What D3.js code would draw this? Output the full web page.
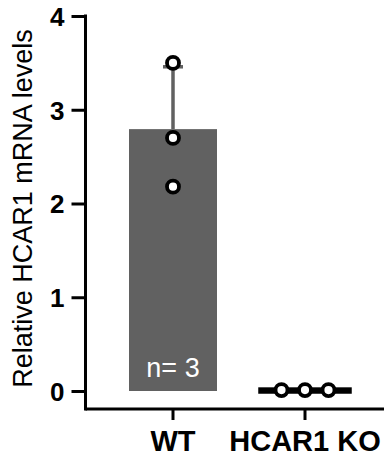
<!DOCTYPE html>
<html>
<head>
<meta charset="utf-8">
<script src="https://cdn.jsdelivr.net/npm/d3@7"></script>
<style>
  html, body { margin: 0; padding: 0; background: #fff; }
  svg { display: block; }
  text { font-family: "Liberation Sans", Arial, sans-serif; }
</style>
</head>
<body>
<svg id="chart" width="386" height="459"></svg>
<script>
// ---- data ----
const groups = ["WT", "HCAR1 KO"];
const wtValues = [3.50, 2.70, 2.18];
const koValues = [0.01, 0.01, 0.01];
const barColors = ["#616161", "#000000"];
const yTicks = [0, 1, 2, 3, 4];
const yTitle = "Relative HCAR1 mRNA levels";
const nLabel = "n= 3";

const seriesValues = [wtValues, koValues];

const svg = d3.select("#chart");

const y = d3.scaleLinear().domain([0, 4]).range([391, 16]);
const x = d3.scaleBand().domain(groups).range([107, 371]).paddingInner(1/3).paddingOuter(1/6);

const axisX0 = 85.5;   // y-axis position
const axisY0 = 409;    // x-axis position

const stats = groups.map((g, i) => ({
  g, vals: seriesValues[i], mean: d3.mean(seriesValues[i]), sd: d3.deviation(seriesValues[i]) || 0, color: barColors[i]
}));

// bars
svg.append("g").selectAll("rect").data(stats).join("rect")
  .attr("x", d => x(d.g))
  .attr("width", x.bandwidth())
  .attr("y", d => y(d.mean))
  .attr("height", d => Math.max(0, y(0) - y(d.mean)))
  .attr("fill", d => d.color)
  .attr("stroke", d => d.g === "HCAR1 KO" ? d.color : "none")
  .attr("stroke-width", 5.5);

// error bars (upper SD)
const eb = svg.append("g");
stats.forEach(d => {
  if (d.sd <= 0.02) return;
  const cx = x(d.g) + x.bandwidth() / 2;
  eb.append("line")
    .attr("x1", cx).attr("x2", cx)
    .attr("y1", y(d.mean)).attr("y2", y(d.mean + d.sd))
    .attr("stroke", d.color).attr("stroke-width", 3.5);
  eb.append("line")
    .attr("x1", cx - 10).attr("x2", cx + 10)
    .attr("y1", y(d.mean + d.sd)).attr("y2", y(d.mean + d.sd))
    .attr("stroke", d.color).attr("stroke-width", 3.5);
});

// n label
svg.append("text")
  .attr("x", x("WT") + x.bandwidth() / 2)
  .attr("y", 377)
  .attr("text-anchor", "middle")
  .attr("fill", "#ffffff")
  .attr("font-size", 27)
  .text(nLabel);

// points: spread horizontally when they overlap in pixel space
const pts = [];
stats.forEach(d => {
  const cx = x(d.g) + x.bandwidth() / 2;
  const ys = d.vals.map(v => y(v));
  const minGap = d3.min(d3.pairs(ys.slice().sort(d3.ascending)), p => p[1] - p[0]);
  const overlap = minGap < 14;
  d.vals.forEach((v, j) => {
    const off = overlap ? (j - (d.vals.length - 1) / 2) * 23.5 : 0;
    pts.push({ cx: cx + off, cy: y(v) });
  });
});
svg.append("g").selectAll("circle").data(pts).join("circle")
  .attr("cx", d => d.cx).attr("cy", d => d.cy)
  .attr("r", 6)
  .attr("fill", "#fff")
  .attr("stroke", "#000")
  .attr("stroke-width", 3.8);

// y axis
const yAxis = d3.axisLeft(y).tickValues(yTicks).tickSize(14).tickPadding(7).tickFormat(d3.format("d"));
const gy = svg.append("g").attr("transform", `translate(${axisX0},0)`).call(yAxis);
gy.select(".domain").remove();
gy.selectAll(".tick line").attr("stroke", "#000").attr("stroke-width", 3);
gy.selectAll(".tick text")
  .attr("font-family", "Liberation Sans, Arial, sans-serif")
  .attr("font-size", 26).attr("font-weight", "bold").attr("fill", "#000")
  .attr("dy", "0.36em");
svg.append("line")
  .attr("x1", axisX0).attr("x2", axisX0)
  .attr("y1", y(4) - 1.5).attr("y2", axisY0 + 1.5)
  .attr("stroke", "#000").attr("stroke-width", 3);

// x axis
const xAxis = d3.axisBottom(x).tickSize(11).tickPadding(12);
const gx = svg.append("g").attr("transform", `translate(0,${axisY0})`).call(xAxis);
gx.select(".domain").remove();
gx.selectAll(".tick line").attr("stroke", "#000").attr("stroke-width", 3);
gx.selectAll(".tick text")
  .attr("font-family", "Liberation Sans, Arial, sans-serif")
  .attr("font-size", 29).attr("font-weight", "bold").attr("fill", "#000")
  .attr("y", 0).attr("dy", 0)
  .attr("transform", "translate(0,42)");
svg.append("line")
  .attr("x1", axisX0).attr("x2", 384)
  .attr("y1", axisY0).attr("y2", axisY0)
  .attr("stroke", "#000").attr("stroke-width", 3);

// y title
svg.append("text")
  .attr("transform", `translate(32,208.5) rotate(-90)`)
  .attr("text-anchor", "middle")
  .attr("font-size", 27)
  .attr("fill", "#000")
  .text(yTitle);
</script>
</body>
</html>
